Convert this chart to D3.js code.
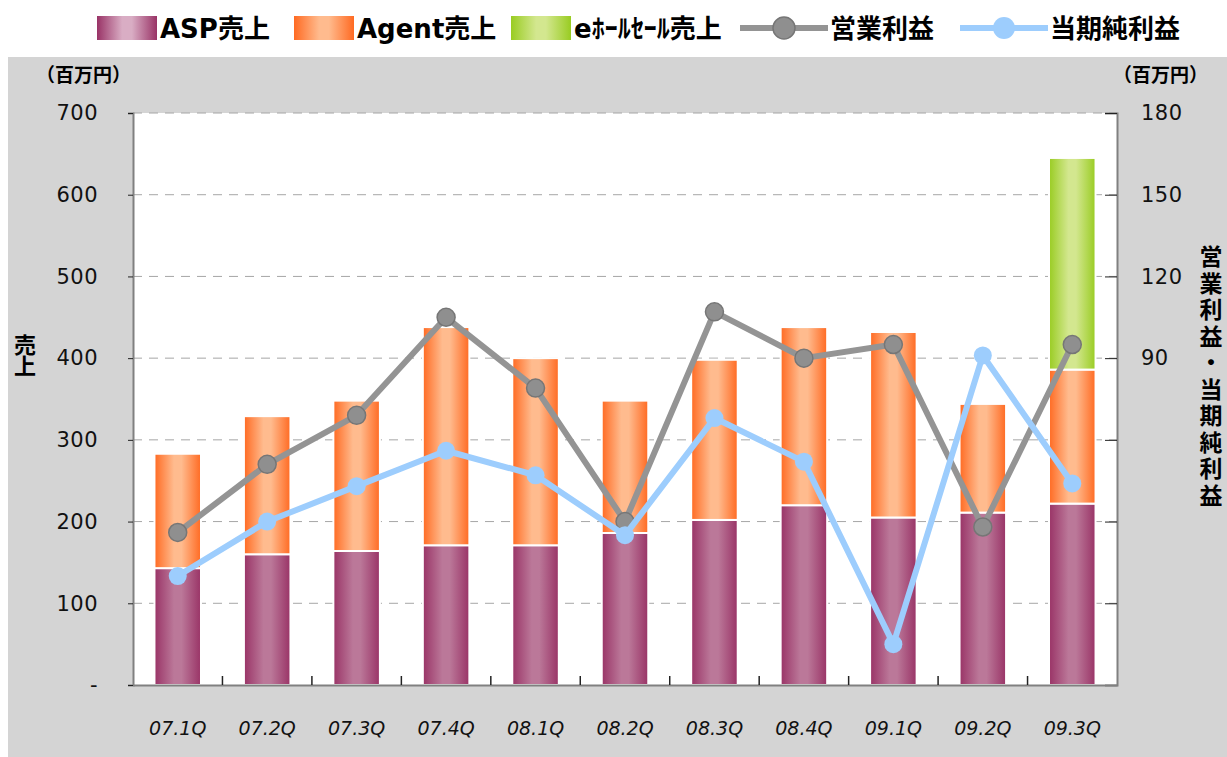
<!DOCTYPE html>
<html>
<head>
<meta charset="utf-8">
<script src="https://cdn.jsdelivr.net/npm/d3@7"></script>
<style>
  body { margin: 0; background: #fff; }
  svg text { font-family: "DejaVu Sans", sans-serif; }
  svg text.jp, svg tspan.jp { font-family: "Noto Sans CJK JP", sans-serif; font-weight: 700; }
  svg tspan.lat { font-family: "DejaVu Sans", sans-serif; font-weight: 700; }
</style>
</head>
<body>
<script>
// data
const quarters = ["07.1Q","07.2Q","07.3Q","07.4Q","08.1Q","08.2Q","08.3Q","08.4Q","09.1Q","09.2Q","09.3Q"];
const aspSales = [143, 160, 164, 171, 171, 186, 202, 220, 205, 211, 222];
const agentSales = [140, 169, 184, 267, 229, 162, 196, 218, 227, 133, 164];
const wholesaleSales = [0, 0, 0, 0, 0, 0, 0, 0, 0, 0, 259];
const operatingIncome = [26, 51, 69, 105, 79, 30, 107, 90, 95, 28, 95];
const netIncome = [10, 30, 43, 56, 47, 25, 68, 52, -15, 91, 44];
const leftTicks = [0, 100, 200, 300, 400, 500, 600, 700];
const rightTicks = [-30, 0, 30, 60, 90, 120, 150, 180];
const rightLabels = [90, 120, 150, 180];
// data

const W = 1227, H = 757;
const plot = { left: 133, right: 1117, top: 113, bottom: 685 };

const svg = d3.select("body").append("svg")
  .attr("width", W)
  .attr("height", H);

// gradients
const defs = svg.append("defs");
function grad(id, edge, mid) {
  const g = defs.append("linearGradient").attr("id", id)
    .attr("x1", "0%").attr("x2", "100%").attr("y1", "0%").attr("y2", "0%");
  g.append("stop").attr("offset", "0%").attr("stop-color", edge);
  g.append("stop").attr("offset", "42%").attr("stop-color", mid);
  g.append("stop").attr("offset", "58%").attr("stop-color", mid);
  g.append("stop").attr("offset", "100%").attr("stop-color", edge);
}
grad("gAsp", "#993366", "#bb7899");
grad("gAgent", "#ff6a22", "#ffbb8e");
grad("gWhole", "#99cc22", "#d3e78f");
grad("gAspLeg", "#993366", "#d9adc4");

// gray panel
svg.append("rect")
  .attr("x", 8).attr("y", 57)
  .attr("width", W - 8).attr("height", H - 57)
  .attr("fill", "#d4d4d4");

svg.append("rect")
  .attr("x", plot.left).attr("y", plot.top)
  .attr("width", plot.right - plot.left).attr("height", plot.bottom - plot.top)
  .attr("fill", "#fff");

// scales
const x = d3.scaleBand()
  .domain(quarters)
  .range([plot.left, plot.right])
  .paddingInner(0.48)
  .paddingOuter(0.24);
const yL = d3.scaleLinear().domain([0, 700]).range([plot.bottom, plot.top]);
const yR = d3.scaleLinear().domain([-30, 180]).range([plot.bottom, plot.top]);

// gridlines
svg.append("g")
  .selectAll("line")
  .data(leftTicks.filter(d => d > 0))
  .join("line")
  .attr("x1", plot.left).attr("x2", plot.right)
  .attr("y1", d => yL(d)).attr("y2", d => yL(d))
  .attr("stroke", "#a6a6a6")
  .attr("stroke-width", 1)
  .attr("stroke-dasharray", "9,7");

// stacked bars
const table = quarters.map((q, i) => ({
  q: q, asp: aspSales[i], agent: agentSales[i], whole: wholesaleSales[i]
}));
const keys = ["asp", "agent", "whole"];
const fills = { asp: "url(#gAsp)", agent: "url(#gAgent)", whole: "url(#gWhole)" };
const stacked = d3.stack().keys(keys)(table);

svg.append("g")
  .selectAll("g")
  .data(stacked)
  .join("g")
  .attr("fill", d => fills[d.key])
  .selectAll("rect")
  .data(d => d.filter(s => s[1] - s[0] > 0))
  .join("rect")
  .attr("x", d => x(d.data.q))
  .attr("width", x.bandwidth())
  .attr("y", d => yL(d[1]))
  .attr("height", d => yL(d[0]) - yL(d[1]))
  .attr("stroke", "#fff")
  .attr("stroke-width", 2);

// axes
const leftAxis = svg.append("g")
  .attr("transform", `translate(${plot.left},0)`)
  .call(d3.axisLeft(yL).tickValues(leftTicks).tickSize(5).tickPadding(30)
    .tickFormat(d => d === 0 ? "-" : d));
leftAxis.select(".domain").attr("stroke", "#808080").attr("stroke-width", 2);
leftAxis.selectAll(".tick line").attr("stroke", "#222");
leftAxis.selectAll("text").style("font-size", "21px").style("letter-spacing", "0.5px").attr("fill", "#111");

const rightAxis = svg.append("g")
  .attr("transform", `translate(${plot.right},0)`)
  .call(d3.axisRight(yR).tickValues(rightTicks).tickSize(-12).tickPadding(24)
    .tickFormat(d => rightLabels.includes(d) ? d : ""));
rightAxis.select(".domain").attr("stroke", "#808080").attr("stroke-width", 2);
rightAxis.selectAll(".tick line").attr("stroke", "#222");
rightAxis.selectAll("text").style("font-size", "21px").style("letter-spacing", "0.5px").attr("fill", "#111");

const bottomAxis = svg.append("g")
  .attr("transform", `translate(0,${plot.bottom})`)
  .call(d3.axisBottom(x).tickSize(0).tickPadding(37));
bottomAxis.select(".domain").attr("stroke", "#808080").attr("stroke-width", 2);
bottomAxis.selectAll("text").style("font-size", "19px").attr("fill", "#111")
  .style("font-style", "oblique");

// category dividers on the bottom axis
const gap = x.step() - x.bandwidth();
svg.append("g")
  .selectAll("line")
  .data(quarters.slice(1))
  .join("line")
  .attr("x1", d => x(d) - gap / 2).attr("x2", d => x(d) - gap / 2)
  .attr("y1", plot.bottom - 9).attr("y2", plot.bottom)
  .attr("stroke", "#222").attr("stroke-width", 1.5);

// lines
function drawLine(values, color, markFill, markStroke) {
  const pts = values.map((v, i) => [x(quarters[i]) + x.bandwidth() / 2, yR(v)]);
  svg.append("path")
    .attr("d", d3.line()(pts))
    .attr("fill", "none")
    .attr("stroke", color)
    .attr("stroke-width", 6)
    .attr("stroke-linejoin", "round");
  svg.append("g")
    .selectAll("circle")
    .data(pts)
    .join("circle")
    .attr("cx", d => d[0]).attr("cy", d => d[1])
    .attr("r", 9)
    .attr("fill", markFill)
    .attr("stroke", markStroke)
    .attr("stroke-width", markStroke === "none" ? 0 : 1.5);
}
drawLine(operatingIncome, "#949494", "#8f8f8f", "#767676");
drawLine(netIncome, "#9dcdfd", "#9dcdfd", "none");

// unit labels
svg.append("text").attr("class", "jp")
  .attr("x", 36).attr("y", 82)
  .style("font-size", "19px").text("（百万円）");
svg.append("text").attr("class", "jp")
  .attr("x", 1113).attr("y", 82)
  .style("font-size", "19px").text("（百万円）");

// axis titles (vertical)
svg.append("text").attr("class", "jp")
  .attr("x", 25).attr("y", 334)
  .style("writing-mode", "vertical-rl")
  .style("font-size", "22px")
  .style("letter-spacing", "-1px")
  .text("売上");

svg.append("text").attr("class", "jp")
  .attr("x", 1211).attr("y", 245)
  .style("writing-mode", "vertical-rl")
  .style("font-size", "23px")
  .style("letter-spacing", "3.5px")
  .text("営業利益・当期純利益");

// legend
const legend = svg.append("g");
const swatches = [
  { x: 97, fill: "url(#gAspLeg)", lat: "ASP", jp: "売上" },
  { x: 294, fill: "url(#gAgent)", lat: "Agent", jp: "売上" },
  { x: 511, fill: "url(#gWhole)", lat: "e", jp: "ﾎｰﾙｾｰﾙ売上" }
];
swatches.forEach(s => {
  legend.append("rect")
    .attr("x", s.x).attr("y", 16).attr("width", 60).attr("height", 24)
    .attr("fill", s.fill);
  const t = legend.append("text")
    .attr("x", s.x + 63).attr("y", 38)
    .style("font-size", "26px");
  t.append("tspan").attr("class", "lat").text(s.lat);
  t.append("tspan").attr("class", "jp").text(s.jp);
});
const lineItems = [
  { x: 740, color: "#949494", mark: "#8f8f8f", stroke: "#767676", label: "営業利益" },
  { x: 960, color: "#9dcdfd", mark: "#9dcdfd", stroke: "none", label: "当期純利益" }
];
lineItems.forEach(s => {
  legend.append("line")
    .attr("x1", s.x).attr("x2", s.x + 88)
    .attr("y1", 28).attr("y2", 28)
    .attr("stroke", s.color).attr("stroke-width", 6);
  legend.append("circle")
    .attr("cx", s.x + 44).attr("cy", 28).attr("r", 11)
    .attr("fill", s.mark)
    .attr("stroke", s.stroke).attr("stroke-width", s.stroke === "none" ? 0 : 1.5);
  legend.append("text").attr("class", "jp")
    .attr("x", s.x + 90).attr("y", 38)
    .style("font-size", "26px").text(s.label);
});
</script>
</body>
</html>
